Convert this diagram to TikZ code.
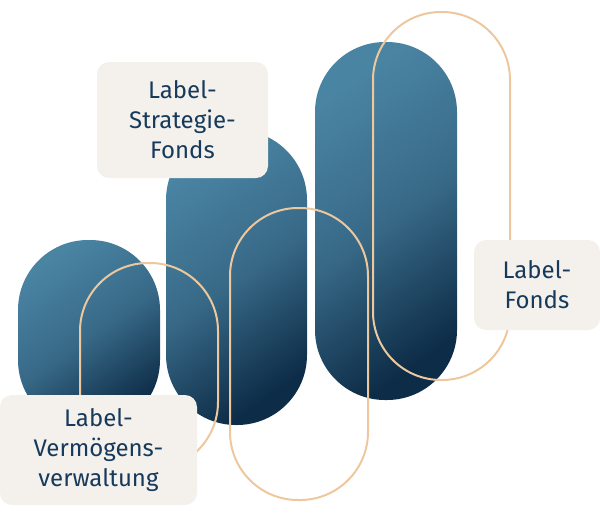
\documentclass[tikz,border=0pt]{standalone}
\usepackage{fontspec}
\setmainfont{Fira Sans}
\definecolor{barlight}{HTML}{4A84A3}
\definecolor{bardark}{HTML}{0D2C47}
\definecolor{ringtan}{HTML}{EDC89E}
\definecolor{boxfill}{HTML}{F4F0EB}
\definecolor{textnavy}{HTML}{163A5C}
\begin{document}
\begin{tikzpicture}[x=1pt, y=-1pt,
  bar_style/.style={inner sep=0pt, rounded corners=70pt, top color=barlight, bottom color=bardark, middle color=barlight!70!bardark, shading angle=35},
  ring_style/.style={draw=ringtan, line width=2pt, inner sep=0pt, rounded corners=68pt},
  label_style/.style={fill=boxfill, rounded corners=12pt, inner sep=0pt, text=textnavy, align=center, font=\fontsize{24}{30}\selectfont}]
  \useasboundingbox (0,0) rectangle (600,512);
  % bars
  \node[bar_style, minimum width=142pt, minimum height=190pt] (bar1) at (89,335) {};
  \node[bar_style, minimum width=141pt, minimum height=295pt] (bar2) at (236.5,277.5) {};
  \node[bar_style, minimum width=142pt, minimum height=358pt] (bar3) at (386,221) {};
  % rings
  \node[ring_style, minimum width=138pt, minimum height=207pt] (ring1) at (149,366.5) {};
  \node[ring_style, minimum width=138pt, minimum height=292pt] (ring2) at (299,354) {};
  \node[ring_style, minimum width=137pt, minimum height=368pt] (ring3) at (441.5,196) {};
  % labels
  \node[label_style, minimum width=171pt, minimum height=116pt] (strategie) at (182.5,120) {Label-\\Strategie-\\Fonds};
  \node[label_style, minimum width=126pt, minimum height=90pt] (fonds) at (537,285) {Label-\\Fonds};
  \node[label_style, minimum width=197pt, minimum height=110pt] (verm) at (98.5,450) {Label-\\Vermögens-\\verwaltung};
\end{tikzpicture}
\end{document}
